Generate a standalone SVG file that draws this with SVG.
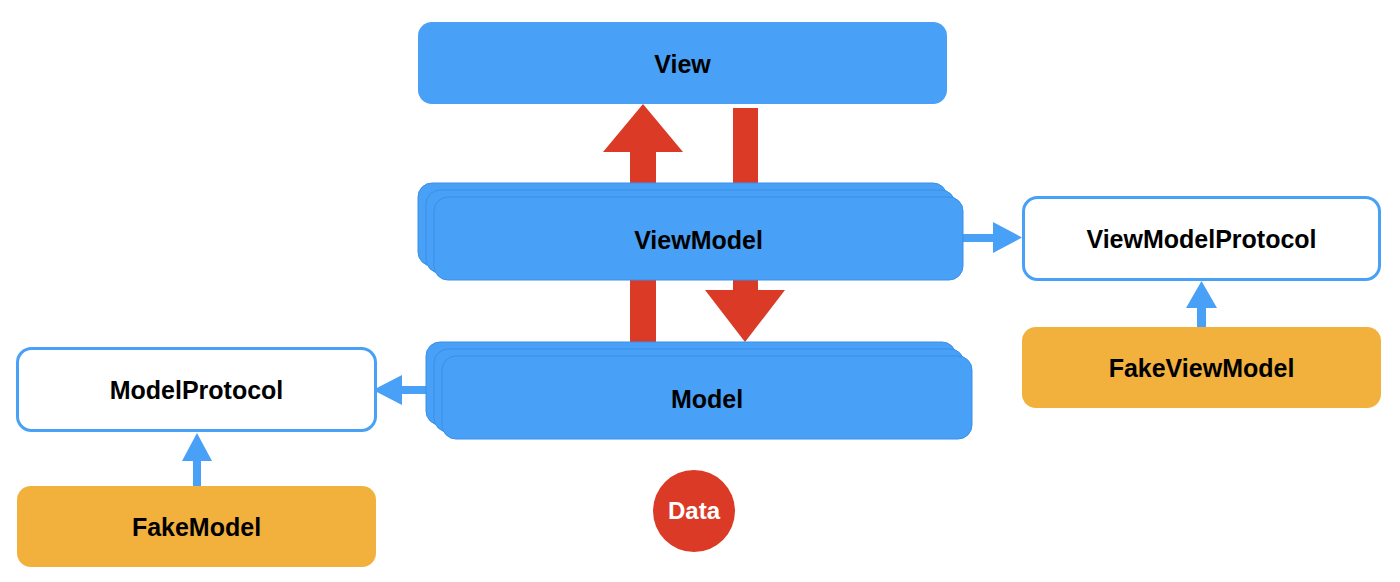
<svg xmlns="http://www.w3.org/2000/svg" width="1400" height="582" viewBox="0 0 1400 582">
<style>
.blue{fill:#48A0F7}
.layer{fill:#48A0F7;stroke:#3b8fe6;stroke-width:1}
.proto{fill:#ffffff;stroke:#48A0F7;stroke-width:3}
.fake{fill:#F2B03D}
.red{fill:#DB3B26}
.conn{fill:#48A0F7}
.lbl{font-family:"Liberation Sans",Arial,sans-serif;font-weight:bold;font-size:25px;fill:#000;text-anchor:middle;dominant-baseline:central}
.wl{font-family:"Liberation Sans",Arial,sans-serif;font-weight:bold;font-size:24px;fill:#fff;text-anchor:middle;dominant-baseline:central}
</style>
<rect width="1400" height="582" fill="#ffffff"/>
<g id="connectors">
  <path class="red" d="M630 342 V152 H603 L643 104 L683 152 H656 V342 Z"/>
  <path class="red" d="M733 108 H758 V290 H785 L745 342 L705 290 H733 Z"/>
  <path class="conn" d="M963 234 H993 V222 L1022 237.5 L993 253 V242 H963 Z"/>
  <path class="conn" d="M1197 327 V308 H1186 L1201.5 281 L1217 308 H1206 V327 Z"/>
  <path class="conn" d="M428 386 H402 V375 L373 390 L402 405 V394 H428 Z"/>
  <path class="conn" d="M193 486 V461 H182 L197 433 L212 461 H201 V486 Z"/>
</g>
<g id="view">
  <rect class="blue" x="418" y="22" width="529" height="82" rx="14"/>
  <text class="lbl" x="682.5" y="64">View</text>
</g>
<g id="viewmodel">
  <rect class="layer" x="418" y="183" width="529" height="83" rx="14"/>
  <rect class="layer" x="426" y="190" width="529" height="83" rx="14"/>
  <rect class="layer" x="434" y="197" width="529" height="83" rx="14"/>
  <text class="lbl" x="698.5" y="240">ViewModel</text>
</g>
<g id="model">
  <rect class="layer" x="426" y="342" width="530" height="83" rx="14"/>
  <rect class="layer" x="434" y="349" width="530" height="83" rx="14"/>
  <rect class="layer" x="442" y="356" width="530" height="83" rx="14"/>
  <text class="lbl" x="707" y="399">Model</text>
</g>
<g id="viewmodelprotocol">
  <rect class="proto" x="1023.5" y="197.5" width="356" height="82" rx="14"/>
  <text class="lbl" x="1201.5" y="239">ViewModelProtocol</text>
</g>
<g id="fakeviewmodel">
  <rect class="fake" x="1022" y="327" width="359" height="81" rx="14"/>
  <text class="lbl" x="1201.5" y="368">FakeViewModel</text>
</g>
<g id="modelprotocol">
  <rect class="proto" x="17.5" y="348.5" width="358" height="82" rx="14"/>
  <text class="lbl" x="196.5" y="390">ModelProtocol</text>
</g>
<g id="fakemodel">
  <rect class="fake" x="17" y="486" width="359" height="81" rx="14"/>
  <text class="lbl" x="196.5" y="527">FakeModel</text>
</g>
<g id="data">
  <circle class="red" cx="694" cy="511" r="41"/>
  <text class="wl" x="694" y="510">Data</text>
</g>
</svg>
